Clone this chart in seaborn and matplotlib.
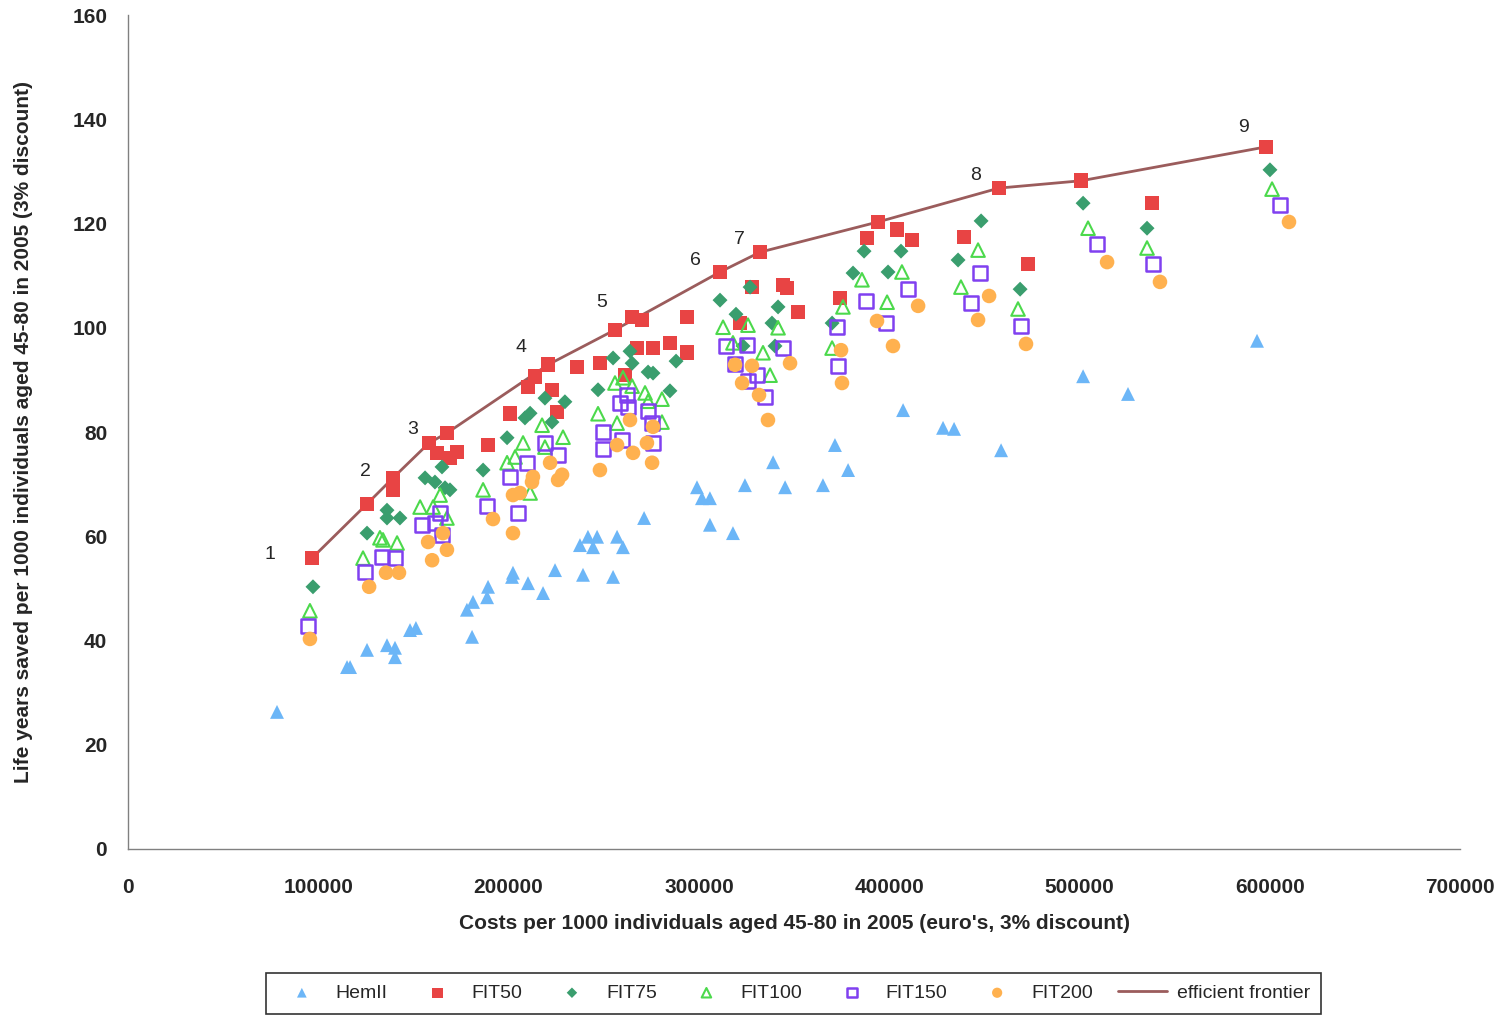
import numpy as np
import pandas as pd
import matplotlib
matplotlib.use('Agg')
import matplotlib.pyplot as plt
import seaborn as sns

# ---- data (costs in euro, life years saved) ----
hemii_cost = [78300, 115100, 116700, 125600, 136100, 140300, 140300, 148200, 151300, 178100,
              180800, 181300, 188700, 189200, 201800, 202300, 210200, 218100, 224400, 237500,
              239100, 241700, 246500, 244400, 254900, 257000, 260100, 271200, 299000, 301600,
              305800, 305800, 317900, 324200, 339000, 345300, 365200, 371500, 378400, 407300,
              428300, 434100, 458800, 501900, 525500, 593300]
hemii_ly = [26.3, 34.9, 34.9, 38.2, 39.1, 38.6, 36.8, 42.0, 42.4, 45.9,
            40.7, 47.4, 48.3, 50.3, 52.2, 53.0, 51.0, 49.1, 53.5, 58.3,
            52.6, 59.9, 59.9, 57.9, 52.2, 59.9, 57.9, 63.5, 69.4, 67.3,
            67.3, 62.2, 60.6, 69.8, 74.2, 69.4, 69.8, 77.5, 72.7, 84.2,
            80.8, 80.6, 76.5, 90.7, 87.3, 97.5]

fit50_cost = [96700, 125600, 139300, 139300, 158200, 167600, 162400, 169200, 172900, 189200,
              200700, 210200, 213900, 220700, 222800, 225400, 236000, 248000, 255900, 264900,
              270100, 267500, 275900, 284800, 293800, 261200, 293800, 311100, 321600, 327900,
              332100, 344200, 346300, 352100, 374200, 388300, 394100, 404100, 412000, 439300,
              457700, 473000, 500800, 538100, 598000]
fit50_ly = [55.8, 66.2, 71.2, 68.9, 77.9, 79.8, 76.0, 75.0, 76.2, 77.5,
            83.6, 88.6, 90.6, 92.9, 88.1, 83.8, 92.5, 93.2, 99.6, 102.1,
            101.5, 96.1, 96.1, 97.1, 95.2, 90.9, 102.1, 110.7, 100.9, 107.8,
            114.5, 108.2, 107.6, 103.0, 105.7, 117.2, 120.3, 118.9, 116.8, 117.4,
            126.8, 112.2, 128.2, 123.9, 134.7]

fit75_cost = [97200, 125600, 136100, 136100, 142900, 156100, 161300, 165000, 166600, 169200,
              186600, 199200, 208600, 211300, 219100, 222800, 229600, 247000, 254900, 263800,
              264900, 273300, 275900, 284800, 288000, 311100, 319500, 326900, 341600, 338400,
              323200, 340000, 370000, 381000, 386800, 399400, 406200, 436200, 448300, 468800,
              501900, 535500, 600100]
fit75_ly = [50.3, 60.6, 65.0, 63.5, 63.5, 71.2, 70.4, 73.3, 69.3, 68.9,
            72.7, 78.9, 82.7, 83.6, 86.5, 81.9, 85.8, 88.1, 94.2, 95.5,
            93.2, 91.5, 91.3, 87.9, 93.6, 105.3, 102.6, 107.8, 104.0, 100.9,
            96.5, 96.5, 100.9, 110.5, 114.7, 110.7, 114.7, 113.0, 120.5, 107.4,
            123.9, 119.1, 130.3]

fit100_cost = [95600, 123500, 132400, 134000, 141400, 153500, 160300, 164000, 167600, 186600,
               199200, 203400, 207600, 211300, 217600, 219100, 228600, 247000, 255900, 260100,
               264900, 257000, 271700, 273300, 280600, 280600, 312700, 325800, 341600, 317900,
               333700, 337400, 370000, 375700, 385700, 398900, 406700, 437700, 446700, 467700,
               504500, 535500, 601200]
fit100_ly = [45.7, 55.8, 59.7, 59.3, 58.7, 65.6, 65.6, 67.9, 63.5, 68.9,
             74.1, 75.2, 77.9, 68.3, 81.3, 77.1, 79.0, 83.5, 89.4, 90.4,
             88.8, 81.7, 87.5, 85.9, 86.3, 81.9, 100.1, 100.5, 100.0, 97.1,
             95.2, 90.9, 96.1, 104.0, 109.2, 104.9, 110.7, 107.8, 114.9, 103.6,
             119.1, 115.3, 126.6]

fit150_cost = [94600, 124500, 133500, 140300, 154500, 161300, 164000, 165000, 188700, 200700,
               205000, 209700, 219100, 226000, 249600, 249600, 258600, 262200, 262800, 259600,
               273300, 275400, 275900, 314300, 325300, 344200, 319000, 330500, 325800, 334700,
               372600, 373100, 387800, 398300, 409900, 443000, 447700, 469300, 509200, 538600,
               605400]
fit150_ly = [42.8, 53.1, 56.0, 55.8, 62.2, 62.5, 64.5, 60.2, 65.8, 71.4,
             64.5, 74.1, 77.9, 75.6, 80.0, 76.7, 85.6, 87.1, 84.8, 78.5,
             84.0, 81.7, 77.9, 96.5, 96.7, 96.1, 93.0, 90.9, 89.8, 86.7,
             100.1, 92.7, 105.1, 100.9, 107.4, 104.8, 110.5, 100.3, 116.1, 112.2,
             123.6]

fit200_cost = [95600, 126700, 135600, 142400, 157700, 159800, 165500, 167600, 191800, 202300,
               202300, 206000, 212300, 212800, 221800, 226000, 228100, 248000, 257000, 263800,
               265400, 272700, 275900, 275400, 319000, 327900, 322700, 331600, 336300, 347900,
               374700, 375200, 393600, 402000, 415200, 446700, 452500, 471900, 514500, 542300,
               610100]
fit200_ly = [40.3, 50.3, 53.0, 53.0, 58.9, 55.4, 60.6, 57.4, 63.3, 60.6,
             67.9, 68.3, 70.4, 71.4, 74.1, 70.8, 71.8, 72.7, 77.5, 82.3,
             76.0, 77.9, 81.0, 74.1, 92.9, 92.7, 89.4, 87.1, 82.3, 93.2,
             95.7, 89.4, 101.3, 96.5, 104.2, 101.5, 106.1, 96.9, 112.6, 108.8,
             120.3]

frontier_cost = [96700, 125600, 139300, 158200, 167600, 220700, 255900, 311100, 332100,
                 394100, 457700, 500800, 598000]
frontier_ly = [55.8, 66.2, 71.2, 77.9, 79.8, 92.9, 99.6, 110.7, 114.5,
               120.3, 126.8, 128.2, 134.7]

# numbered points on the frontier: label, index into frontier arrays
point_labels = ['1', '2', '3', '4', '5', '6', '7', '8', '9']
point_index = [0, 1, 3, 5, 6, 7, 8, 10, 12]
# label offsets in pixels (dx, dy) from the point
label_offsets = [(-42, 4), (-2, 32), (-16, 13), (-27, 17), (-13, 27), (-25, 11), (-21, 13), (-23, 13), (-22, 19)]

sns.set_style('white')
plt.rcParams['font.family'] = ['Liberation Sans', 'DejaVu Sans']

fig = plt.figure(figsize=(15.06, 10.16), dpi=100)
ax = fig.add_axes([0.085, 0.1644, 0.8845, 0.8208])

sns.lineplot(x=frontier_cost, y=frontier_ly, color='#9b5c5c', linewidth=2, sort=False,
             label='efficient frontier', ax=ax, zorder=2)

series = [
    ('HemII', hemii_cost, hemii_ly, dict(marker='^', s=100, color='#6cb6f7', edgecolor='none')),
    ('FIT50', fit50_cost, fit50_ly, dict(marker='s', s=110, color='#e84444', edgecolor='none')),
    ('FIT75', fit75_cost, fit75_ly, dict(marker='D', s=58, color='#3a9e6e', edgecolor='none')),
    ('FIT100', fit100_cost, fit100_ly, dict(marker='^', s=95, facecolors='none', edgecolor='#4cd94c', linewidth=1.5)),
    ('FIT150', fit150_cost, fit150_ly, dict(marker='s', s=95, facecolors='none', edgecolor='#8040f0', linewidth=1.8)),
    ('FIT200', fit200_cost, fit200_ly, dict(marker='o', s=110, color='#ffb14f', edgecolor='none')),
]
for name, xs, ys, kw in series:
    df = pd.DataFrame({'cost': xs, 'ly': ys})
    sns.scatterplot(data=df, x='cost', y='ly', label=name, ax=ax, zorder=3, **kw)

for lab, idx, (dx, dy) in zip(point_labels, point_index, label_offsets):
    ax.annotate(lab, (frontier_cost[idx], frontier_ly[idx]), xytext=(dx * 0.72, dy * 0.72),
                textcoords='offset points', ha='center', va='center', fontsize=14)

ax.set_xlim(0, 700000)
ax.set_ylim(0, 160)
ax.set_xticks(np.arange(0, 700001, 100000))
ax.set_yticks(np.arange(0, 161, 20))
ax.set_xticklabels([str(v) for v in range(0, 700001, 100000)])
for sp in ['top', 'right']:
    ax.spines[sp].set_visible(False)
for sp in ['left', 'bottom']:
    ax.spines[sp].set_color('#808080')
    ax.spines[sp].set_linewidth(1)
ax.tick_params(axis='both', direction='out', length=5, width=1, color='#808080', labelsize=15)
ax.tick_params(axis='x', pad=16)
ax.tick_params(axis='y', pad=10)
for t in ax.get_xticklabels() + ax.get_yticklabels():
    t.set_fontweight('bold')

ax.set_xlabel("Costs per 1000 individuals aged 45-80 in 2005 (euro's, 3% discount)",
              fontsize=15, fontweight='bold', labelpad=12)
ax.set_ylabel('Life years saved per 1000 individuals aged 45-80 in 2005 (3% discount)',
              fontsize=15, fontweight='bold', labelpad=28)

handles, labels = ax.get_legend_handles_labels()
if ax.get_legend() is not None:
    ax.get_legend().remove()
order = [labels.index(n) for n in ['HemII', 'FIT50', 'FIT75', 'FIT100', 'FIT150', 'FIT200', 'efficient frontier']]
leg = fig.legend([handles[i] for i in order], [labels[i] for i in order], ncol=7, loc='center',
                 bbox_to_anchor=(0.527, 0.0226), frameon=True, fancybox=False, edgecolor='black',
                 markerscale=0.7, handlelength=2.5, columnspacing=1.3, handletextpad=0.5,
                 fontsize=14, borderpad=0.6)
leg.get_frame().set_linewidth(1.2)

fig.savefig('out.png', dpi=100)
